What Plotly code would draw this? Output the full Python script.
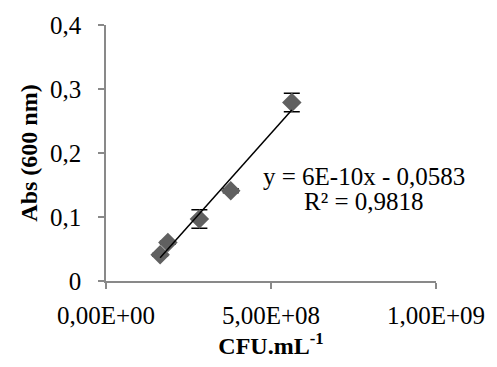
import numpy as np
import plotly.graph_objects as go

# Calibration data: cell density vs absorbance at 600 nm
cfu = [1.64e8, 1.875e8, 2.83e8, 3.78e8, 5.63e8]
absorbance = [0.041, 0.060, 0.097, 0.141, 0.279]
abs_err = [0.002, 0.002, 0.0145, 0.003, 0.0145]

x_tickvals = [0, 5e8, 1e9]
x_ticktext = ["0,00E+00", "5,00E+08", "1,00E+09"]
y_tickvals = [0, 0.1, 0.2, 0.3, 0.4]
y_ticktext = ["0", "0,1", "0,2", "0,3", "0,4"]

eq_text = "y = 6E-10x - 0,0583"
r2_text = "R² = 0,9818"

# Linear trendline over the data range
slope, intercept = np.polyfit(cfu, absorbance, 1)
fit_x = np.array([min(cfu), max(cfu)])
fit_y = slope * fit_x + intercept

FONT = "Liberation Serif, Times New Roman, serif"
AXIS_GRAY = "#898989"
FS = 25

fig = go.Figure()
fig.add_trace(go.Scatter(
    x=cfu, y=absorbance, mode="markers",
    marker=dict(symbol="diamond", size=15, color="#606060"),
    error_y=dict(type="data", array=abs_err, visible=True,
                 color="black", thickness=1.5, width=8),
    showlegend=False,
))
fig.add_trace(go.Scatter(
    x=fit_x, y=fit_y, mode="lines",
    line=dict(color="black", width=1.5),
    showlegend=False,
))

fig.update_layout(
    width=497, height=367,
    margin=dict(l=106, r=56, t=20, b=86),
    paper_bgcolor="white", plot_bgcolor="white",
    font=dict(family=FONT, size=FS, color="black"),
    xaxis=dict(
        range=[0, 1e9], tickvals=x_tickvals, ticktext=x_ticktext,
        showgrid=False, zeroline=False, showline=True,
        linecolor=AXIS_GRAY, linewidth=1.5,
        ticks="outside", ticklen=6, tickcolor=AXIS_GRAY, tickwidth=1.5,
        ticklabelstandoff=5,
        title=dict(text="<b>CFU.mL<sup>-1</sup></b>", standoff=6,
                   font=dict(size=FS - 1)),
    ),
    yaxis=dict(
        range=[0, 0.4], tickvals=y_tickvals, ticktext=y_ticktext,
        showgrid=False, zeroline=False, showline=True,
        linecolor=AXIS_GRAY, linewidth=1.5,
        ticks="outside", ticklen=6, tickcolor=AXIS_GRAY, tickwidth=1.5,
        ticklabelstandoff=12,
        title=dict(text="<b>Abs (600 nm)</b>", standoff=6,
                   font=dict(size=FS - 1)),
    ),
    annotations=[
        dict(x=7.82e8, y=0.163, xref="x", yref="y", text=eq_text,
             showarrow=False, font=dict(size=FS)),
        dict(x=7.82e8, y=0.124, xref="x", yref="y", text=r2_text,
             showarrow=False, font=dict(size=FS)),
    ],
)

fig.write_html("out.html")
